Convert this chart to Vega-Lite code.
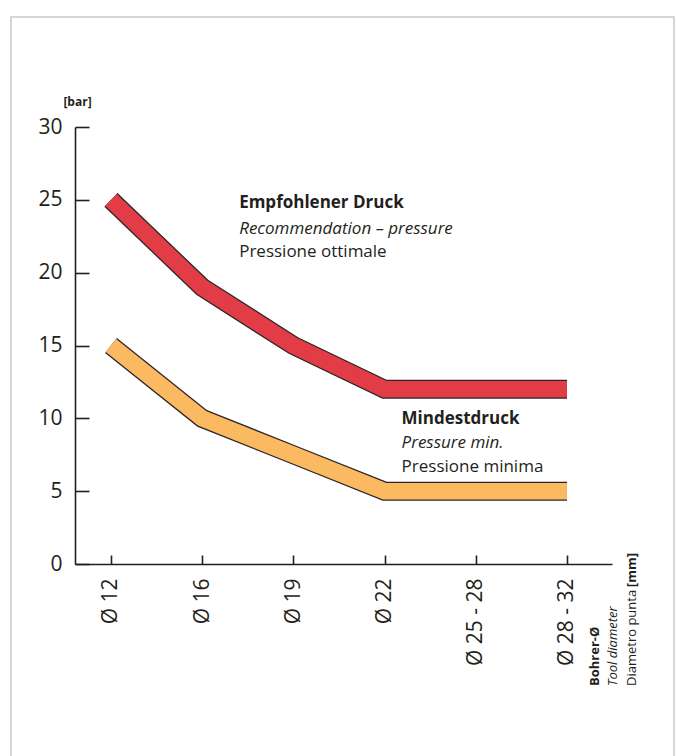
{
  "$schema": "https://vega.github.io/schema/vega-lite/v6.json",
  "width": 663,
  "height": 745,
  "autosize": {"type": "none"},
  "padding": {"left": 11, "top": 17, "right": 3, "bottom": 0},
  "background": "white",
  "config": {
    "view": {"stroke": "#c9c9c9", "strokeWidth": 1.5},
    "font": "Open Sans",
    "axis": {
      "grid": false,
      "domainColor": "#231f20",
      "domainWidth": 1.6,
      "tickColor": "#231f20",
      "tickWidth": 1.6,
      "labelColor": "#231f20",
      "labelFont": "Open Sans",
      "labelFontSize": 21,
      "titleColor": "#231f20",
      "titleFont": "Open Sans"
    },
    "text": {"font": "Open Sans", "color": "#231f20"}
  },
  "datasets": {
    "pressure": [
      {"d": "Ø 12", "series": "Empfohlener Druck", "bar": 25},
      {"d": "Ø 16", "series": "Empfohlener Druck", "bar": 19},
      {"d": "Ø 19", "series": "Empfohlener Druck", "bar": 15},
      {"d": "Ø 22", "series": "Empfohlener Druck", "bar": 12},
      {"d": "Ø 25 - 28", "series": "Empfohlener Druck", "bar": 12},
      {"d": "Ø 28 - 32", "series": "Empfohlener Druck", "bar": 12},
      {"d": "Ø 12", "series": "Mindestdruck", "bar": 15},
      {"d": "Ø 16", "series": "Mindestdruck", "bar": 10},
      {"d": "Ø 19", "series": "Mindestdruck", "bar": 7.5},
      {"d": "Ø 22", "series": "Mindestdruck", "bar": 5},
      {"d": "Ø 25 - 28", "series": "Mindestdruck", "bar": 5},
      {"d": "Ø 28 - 32", "series": "Mindestdruck", "bar": 5}
    ],
    "recBold": [{"d": "Ø 16", "bar": 24.78, "t": "Empfohlener Druck"}],
    "recItalic": [{"d": "Ø 16", "bar": 23.0, "t": "Recommendation – pressure"}],
    "recNormal": [{"d": "Ø 16", "bar": 21.41, "t": "Pressione ottimale"}],
    "minBold": [{"d": "Ø 22", "bar": 9.95, "t": "Mindestdruck"}],
    "minItalic": [{"d": "Ø 22", "bar": 8.3, "t": "Pressure min."}],
    "minNormal": [{"d": "Ø 22", "bar": 6.66, "t": "Pressione minima"}],
    "titleBold": [{"d": "Ø 28 - 32", "bar": 0, "t": "Bohrer-Ø"}],
    "titleItalic": [{"d": "Ø 28 - 32", "bar": 0, "t": "Tool diameter"}],
    "titleNormal": [{"d": "Ø 28 - 32", "bar": 0, "t": "Diametro punta"}],
    "titleUnit": [{"d": "Ø 28 - 32", "bar": 0, "t": "[mm]"}]
  },
  "encoding": {
    "x": {
      "field": "d",
      "type": "ordinal",
      "scale": {
        "type": "point",
        "domain": ["Ø 12", "Ø 16", "Ø 19", "Ø 22", "Ø 25 - 28", "Ø 28 - 32"],
        "range": [64, 601],
        "padding": 0.444,
        "align": 0.444
      },
      "axis": {
        "title": null,
        "labelAngle": -90,
        "tickSize": -9,
        "labelPadding": 23,
        "offset": -198
      }
    },
    "y": {
      "field": "bar",
      "type": "quantitative",
      "scale": {"domain": [0, 30], "nice": false, "zero": true, "range": [547, 110]},
      "axis": {
        "values": [0, 5, 10, 15, 20, 25, 30],
        "tickSize": -14,
        "labelPadding": 27,
        "offset": -64,
        "title": "[bar]",
        "titleAngle": 0,
        "titleFontSize": 12,
        "titleFontWeight": "bold",
        "titleAlign": "center",
        "titleBaseline": "middle",
        "titleX": 2,
        "titleY": 84
      }
    }
  },
  "layer": [
    {
      "data": {"name": "pressure"},
      "mark": {"type": "line", "strokeWidth": 19, "color": "#2a2526", "strokeJoin": "miter", "strokeCap": "butt"},
      "encoding": {"detail": {"field": "series"}}
    },
    {
      "data": {"name": "pressure"},
      "mark": {"type": "line", "strokeWidth": 16.5, "strokeJoin": "miter", "strokeCap": "butt"},
      "encoding": {
        "color": {
          "field": "series",
          "type": "nominal",
          "scale": {"domain": ["Empfohlener Druck", "Mindestdruck"], "range": ["#e23d46", "#fbb961"]},
          "legend": null
        }
      }
    },
    {
      "data": {"name": "recBold"},
      "mark": {"type": "text", "align": "left", "baseline": "middle", "fontSize": 17, "fontWeight": "bold", "dx": 37},
      "encoding": {"text": {"field": "t"}}
    },
    {
      "data": {"name": "recItalic"},
      "mark": {"type": "text", "align": "left", "baseline": "middle", "fontSize": 17, "fontStyle": "italic", "dx": 37},
      "encoding": {"text": {"field": "t"}}
    },
    {
      "data": {"name": "recNormal"},
      "mark": {"type": "text", "align": "left", "baseline": "middle", "fontSize": 17, "dx": 37},
      "encoding": {"text": {"field": "t"}}
    },
    {
      "data": {"name": "minBold"},
      "mark": {"type": "text", "align": "left", "baseline": "middle", "fontSize": 17, "fontWeight": "bold", "dx": 17},
      "encoding": {"text": {"field": "t"}}
    },
    {
      "data": {"name": "minItalic"},
      "mark": {"type": "text", "align": "left", "baseline": "middle", "fontSize": 17, "fontStyle": "italic", "dx": 17},
      "encoding": {"text": {"field": "t"}}
    },
    {
      "data": {"name": "minNormal"},
      "mark": {"type": "text", "align": "left", "baseline": "middle", "fontSize": 17, "dx": 17},
      "encoding": {"text": {"field": "t"}}
    },
    {
      "data": {"name": "titleBold"},
      "mark": {"type": "text", "align": "left", "baseline": "middle", "fontSize": 13, "fontWeight": "bold", "angle": 270, "dx": -122, "dy": 28},
      "encoding": {"text": {"field": "t"}}
    },
    {
      "data": {"name": "titleItalic"},
      "mark": {"type": "text", "align": "left", "baseline": "middle", "fontSize": 13, "fontStyle": "italic", "angle": 270, "dx": -122, "dy": 46},
      "encoding": {"text": {"field": "t"}}
    },
    {
      "data": {"name": "titleNormal"},
      "mark": {"type": "text", "align": "left", "baseline": "middle", "fontSize": 13, "angle": 270, "dx": -122, "dy": 65},
      "encoding": {"text": {"field": "t"}}
    },
    {
      "data": {"name": "titleUnit"},
      "mark": {"type": "text", "align": "right", "baseline": "middle", "fontSize": 13, "fontWeight": "bold", "angle": 270, "dx": 11, "dy": 65},
      "encoding": {"text": {"field": "t"}}
    }
  ]
}
